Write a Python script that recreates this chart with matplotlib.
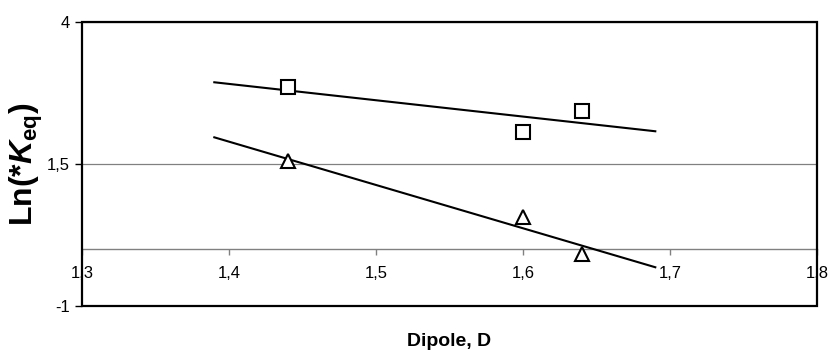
import numpy as np
import matplotlib
matplotlib.use("Agg")
import matplotlib.pyplot as plt
from matplotlib.patches import Rectangle

plt.rcParams['font.family'] = ['Liberation Sans', 'DejaVu Sans']
plt.rcParams['mathtext.fontset'] = 'custom'
plt.rcParams['mathtext.rm'] = 'Liberation Sans:bold'
plt.rcParams['mathtext.it'] = 'Liberation Sans:bold:italic'
plt.rcParams['mathtext.bf'] = 'Liberation Sans:bold'

# Data
dipole_sq = [1.44, 1.60, 1.64]
lnk_sq = [2.85, 2.06, 2.44]
dipole_tri = [1.44, 1.60, 1.64]
lnk_tri = [1.55, 0.56, -0.09]

x_ticks = [1.3, 1.4, 1.5, 1.6, 1.7, 1.8]
x_ticklabels = ["1,3", "1,4", "1,5", "1,6", "1,7", "1,8"]
y_ticks = [-1, 1.5, 4]
y_ticklabels = ["-1", "1,5", "4"]

fig = plt.figure(figsize=(8.3, 3.5), dpi=100)
ax = fig.add_axes([82/830, 44/350, 735/830, 284/350])

ax.set_xlim(1.3, 1.8)
ax.set_ylim(-1, 4)

# trendlines (linear fit, extended 0.05 on each side)
for xs, ys in [(dipole_sq, lnk_sq), (dipole_tri, lnk_tri)]:
    p = np.polyfit(xs, ys, 1)
    xl = np.array([min(xs) - 0.05, max(xs) + 0.05])
    ax.plot(xl, np.polyval(p, xl), color='black', lw=1.5, zorder=3)

ax.plot(dipole_sq, lnk_sq, linestyle='none', marker='s', ms=10.5, mfc='white',
        mec='black', mew=1.5, zorder=4)
ax.plot(dipole_tri, lnk_tri, linestyle='none', marker='^', ms=10.5, mfc='white',
        mec='black', mew=1.5, zorder=4)

# axes styling
for s in ['left', 'top', 'right']:
    ax.spines[s].set_visible(False)
ax.spines['bottom'].set_position(('data', 0))
ax.spines['bottom'].set_color('#808080')
ax.spines['bottom'].set_linewidth(1.0)
ax.add_patch(Rectangle((0, 0), 1, 1, transform=ax.transAxes, fill=False,
                       edgecolor='black', lw=1.6, zorder=5, clip_on=False))

ax.set_xticks(x_ticks)
ax.set_xticklabels(x_ticklabels)
ax.set_yticks(y_ticks)
ax.set_yticklabels(y_ticklabels)
ax.tick_params(axis='x', direction='out', length=4, width=1, color='#808080',
               pad=8, labelsize=12)
ax.tick_params(axis='y', direction='out', length=5, width=1, color='black',
               pad=4, labelsize=12)
ax.yaxis.grid(True, color='#808080', lw=0.9)
ax.set_axisbelow(True)

ax.set_xlabel('Dipole, D', fontsize=14, fontweight='bold')
ax.xaxis.set_label_coords(0.5, -0.095)
ax.set_ylabel(r'Ln(*$\mathit{K}_{\mathrm{eq}}$)', fontsize=23, fontweight='bold')
ax.yaxis.label.set_va('center')
ax.yaxis.set_label_coords(-0.075, 0.5)

fig.savefig('out.png', dpi=100)
